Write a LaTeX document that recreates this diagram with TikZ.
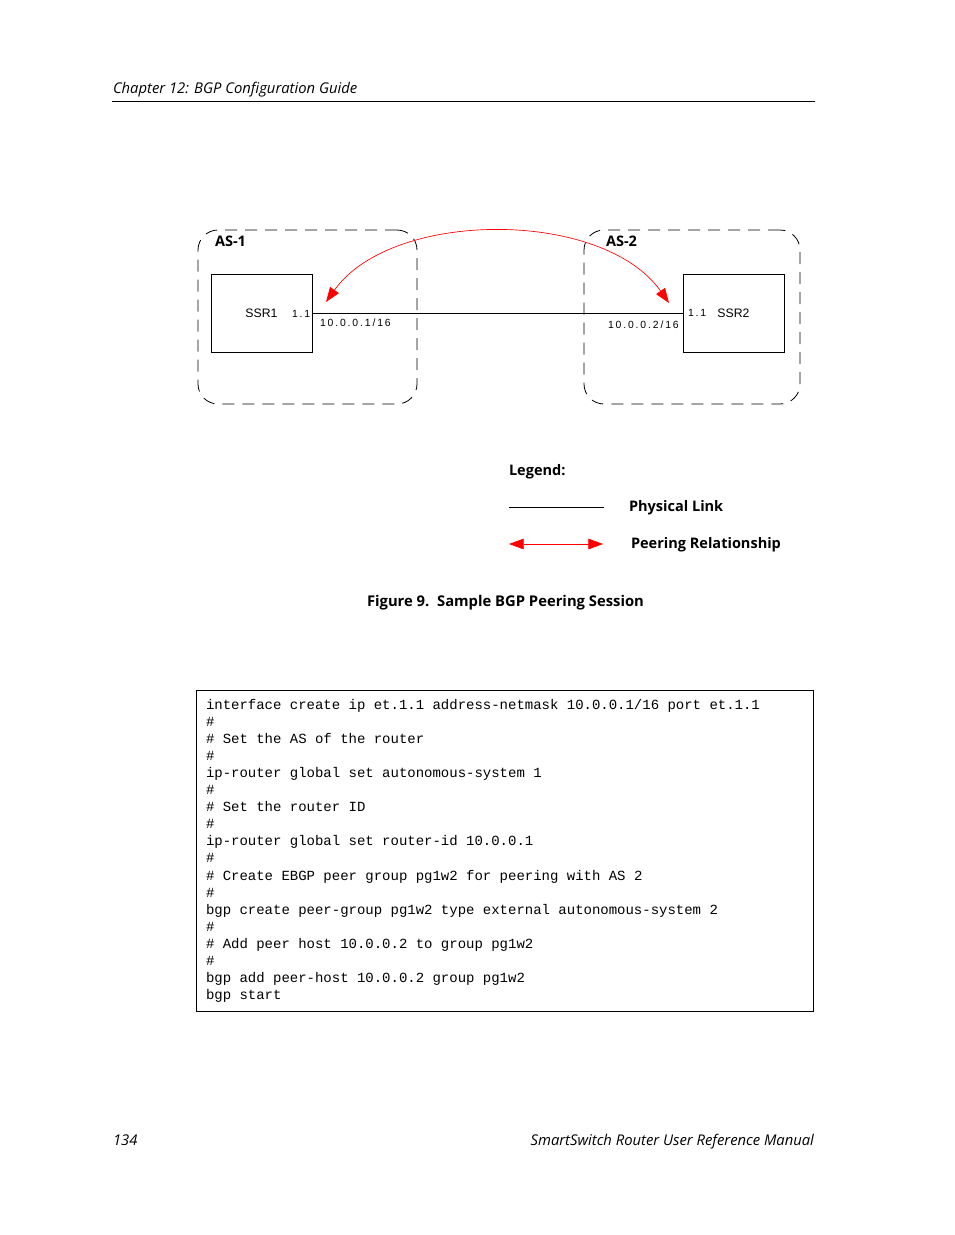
\documentclass[tikz,border=0pt]{standalone}
\usepackage{fontspec}
\setmainfont{Open Sans}
\newfontfamily\arialf{Liberation Sans}
\setmonofont{Liberation Mono}
\usetikzlibrary{arrows.meta}
\begin{document}
\begin{tikzpicture}[x=0.75pt,y=-0.75pt,
  every node/.style={inner sep=0pt,outer sep=0pt},
  hdr/.style={font=\fontsize{11.1}{13}\selectfont\itshape},
  boldlbl/.style={font=\fontsize{10.9}{13}\selectfont\bfseries},
  router/.style={draw,line width=0.7pt,minimum width=75.75pt,minimum height=58.5pt,font=\arialf\fontsize{9.2}{11}\selectfont},
  asbox/.style={draw,dashed,dash pattern=on 9pt off 6pt,line width=0.6pt,rounded corners=15pt},
  iplbl/.style={font=\arialf\fontsize{7.8}{9}\selectfont\addfontfeature{LetterSpace=18}},
  codeln/.style={anchor=base west,font=\ttfamily\fontsize{10.49}{12}\selectfont},
  peer/.style={red,line width=0.5pt,{Triangle[length=11pt,width=8pt]}-{Triangle[length=11pt,width=8pt]}}
]
\useasboundingbox (0,0) rectangle (954,1235);
% header
\node[hdr,anchor=base west] (head) at (113,93) {Chapter 12: BGP Configuration Guide};
\coordinate (hl) at (112,101);
\coordinate (hr) at (815,101);
\draw[line width=0.7pt] (hl) -- (hr);
% AS boxes
\node[asbox,minimum width=164.25pt,minimum height=130.5pt] (as1) at (307.5,317) {};
\node[asbox,minimum width=162pt,minimum height=130.5pt] (as2) at (692,317) {};
\node[boldlbl,anchor=base west] (as1l) at (215,246) {AS-1};
\node[boldlbl,anchor=base west] (as2l) at (606,246) {AS-2};
% routers
\node[router] (ssr1) at (261.5,313) {SSR1};
\node[router] (ssr2) at (733.5,313) {SSR2};
\node[iplbl,anchor=base west] (ip1a) at (292,317) {1.1};
\node[iplbl,anchor=base west] (ip1b) at (320,326) {10.0.0.1/16};
\node[iplbl,anchor=base west] (ip2a) at (688,316) {1.1};
\node[iplbl,anchor=base west] (ip2b) at (608,328) {10.0.0.2/16};
\draw[line width=0.7pt] (ssr1.east) -- (ssr2.west);
% peering arc
\coordinate (pa) at (326,302);
\coordinate (pb) at (669,303);
\draw[peer] (pa) .. controls (392,209) and (603,209) .. (pb);
% legend
\node[boldlbl,anchor=base west] (leg) at (509,475) {Legend:};
\coordinate (l1) at (509,507);
\coordinate (l2) at (604,507);
\draw[line width=0.6pt] (l1) -- (l2);
\node[boldlbl,anchor=base west] (phys) at (629,511) {Physical Link};
\coordinate (l3) at (509,544);
\coordinate (l4) at (603,544);
\draw[peer] (l3) -- (l4);
\node[boldlbl,anchor=base west] (peerl) at (631,548) {Peering Relationship};
% caption
\node[boldlbl,anchor=base west,font=\fontsize{11.1}{13}\selectfont\bfseries] (cap) at (367,606) {Figure 9.\ \ Sample BGP Peering Session};
% code box
\draw[line width=0.7pt] (196,690) rectangle (813,1011);
\node[codeln] (c1) at (206,709.0) {interface create ip et.1.1 address-netmask 10.0.0.1/16 port et.1.1};
\node[codeln] (c2) at (206,726.1) {\#};
\node[codeln] (c3) at (206,743.2) {\# Set the AS of the router};
\node[codeln] (c4) at (206,760.3) {\#};
\node[codeln] (c5) at (206,777.4) {ip-router global set autonomous-system 1};
\node[codeln] (c6) at (206,794.5) {\#};
\node[codeln] (c7) at (206,811.6) {\# Set the router ID};
\node[codeln] (c8) at (206,828.7) {\#};
\node[codeln] (c9) at (206,845.8) {ip-router global set router-id 10.0.0.1};
\node[codeln] (c10) at (206,862.9) {\#};
\node[codeln] (c11) at (206,880.0) {\# Create EBGP peer group pg1w2 for peering with AS 2};
\node[codeln] (c12) at (206,897.1) {\#};
\node[codeln] (c13) at (206,914.2) {bgp create peer-group pg1w2 type external autonomous-system 2};
\node[codeln] (c14) at (206,931.3) {\#};
\node[codeln] (c15) at (206,948.4) {\# Add peer host 10.0.0.2 to group pg1w2};
\node[codeln] (c16) at (206,965.5) {\#};
\node[codeln] (c17) at (206,982.6) {bgp add peer-host 10.0.0.2 group pg1w2};
\node[codeln] (c18) at (206,999.7) {bgp start};
% footer
\node[hdr,anchor=base west] (pg) at (113,1145) {134};
\node[hdr,anchor=base east] (man) at (814,1145) {SmartSwitch Router User Reference Manual};
\end{tikzpicture}
\end{document}
